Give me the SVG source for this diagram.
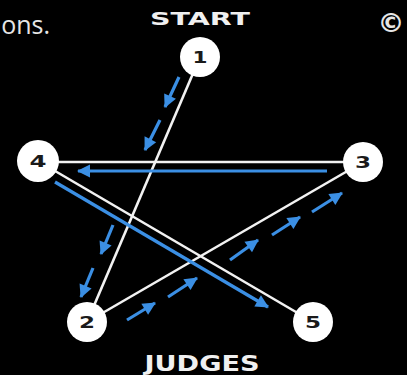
<svg xmlns="http://www.w3.org/2000/svg" width="407" height="375" viewBox="0 0 407 375">
<style>
.edge{stroke:#f2f2f2;stroke-width:2.6;fill:none}
.flow{stroke:#3b8fe4;stroke-width:3.2;fill:none;marker-end:url(#ah)}
.node circle{fill:#ffffff}
.node text{font-family:"DejaVu Sans",sans-serif;font-weight:bold;font-size:16px;fill:#1a1a1a;text-anchor:middle}
.title{font-family:"DejaVu Sans",sans-serif;font-weight:bold;fill:#f0f0f0;text-anchor:middle}
</style>
<defs>
<marker id="ah" markerUnits="userSpaceOnUse" markerWidth="16" markerHeight="16" viewBox="0 0 16 16" refX="13" refY="8" orient="auto">
<path d="M1,1.5 L14,8 L1,14.5 Z" fill="#3b8fe4"/>
</marker>
</defs>
<rect width="407" height="375" fill="#000"/>
<text x="50" y="34" font-family="'Open Sans',sans-serif" font-size="25" fill="#e6e6e6" text-anchor="end">ons.</text>
<text x="391" y="32" font-family="'DejaVu Sans',sans-serif" font-size="27" font-weight="bold" fill="#e6e6e6" text-anchor="middle">©</text>
<text class="title" x="200" y="25" font-size="18" textLength="100" lengthAdjust="spacingAndGlyphs">START</text>
<text class="title" x="202" y="371" font-size="21" textLength="115" lengthAdjust="spacingAndGlyphs">JUDGES</text>
<g id="connectors">
<line class="edge" x1="200" y1="57" x2="87" y2="322"/>
<line class="edge" x1="87" y1="322" x2="363" y2="162"/>
<line class="edge" x1="363" y1="162" x2="38" y2="162"/>
<line class="edge" x1="38" y1="161" x2="313" y2="322"/>
<line class="flow" x1="179" y1="77" x2="165" y2="107"/>
<line class="flow" x1="160" y1="120" x2="145" y2="150"/>
<line class="flow" x1="113" y1="225" x2="101" y2="254"/>
<line class="flow" x1="93" y1="268" x2="81" y2="297"/>
<line class="flow" x1="327" y1="171" x2="78" y2="171"/>
<line class="flow" x1="55" y1="182" x2="268" y2="307"/>
<line class="flow" x1="127" y1="320" x2="155" y2="303"/>
<line class="flow" x1="168" y1="297" x2="197" y2="278"/>
<line class="flow" x1="230" y1="260" x2="258" y2="240"/>
<line class="flow" x1="272" y1="235" x2="300" y2="217"/>
<line class="flow" x1="312" y1="212" x2="342" y2="193"/>
</g>
<g id="n1" class="node"><circle cx="200" cy="57" r="20"/><text x="200" y="63" textLength="15" lengthAdjust="spacingAndGlyphs">1</text></g>
<g id="n2" class="node"><circle cx="87" cy="322" r="20"/><text x="87" y="328" textLength="16" lengthAdjust="spacingAndGlyphs">2</text></g>
<g id="n3" class="node"><circle cx="363" cy="162" r="20"/><text x="363" y="168" textLength="16" lengthAdjust="spacingAndGlyphs">3</text></g>
<g id="n4" class="node"><circle cx="38" cy="161" r="21"/><text x="38" y="167" textLength="17" lengthAdjust="spacingAndGlyphs">4</text></g>
<g id="n5" class="node"><circle cx="313" cy="322" r="20"/><text x="313" y="328" textLength="16" lengthAdjust="spacingAndGlyphs">5</text></g>
</svg>
